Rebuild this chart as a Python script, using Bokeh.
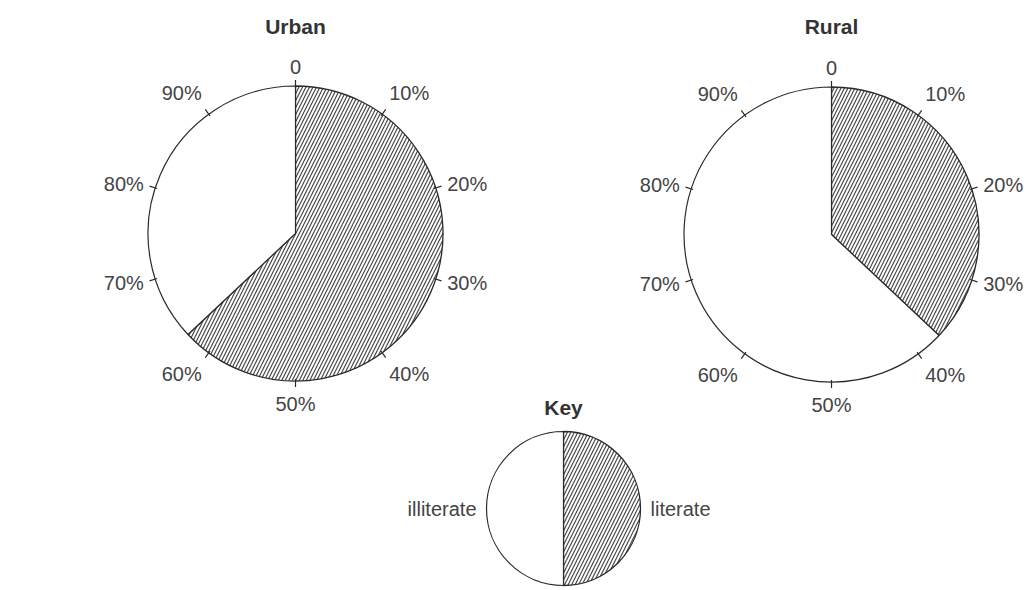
import math
from bokeh.plotting import figure
from bokeh.models import Range1d
from bokeh.core.properties import value
from bokeh.embed import file_html
from bokeh.resources import INLINE

# ---- data ----
regions = ["Urban", "Rural"]
literate_pct = [63, 37]
tick_pcts = [0, 10, 20, 30, 40, 50, 60, 70, 80, 90]
tick_labels = ["0", "10%", "20%", "30%", "40%", "50%", "60%", "70%", "80%", "90%"]
key_title = "Key"
key_pct = [50, 50]
key_labels = ["literate", "illiterate"]

# ---- layout (pixels) ----
W, H = 1033, 590
def dx(px):
    return px
def dy(py):
    return H - py

centers = [(dx(295), dy(233)), (dx(831), dy(234))]
R = 147.5
key_center = (dx(563), dy(508))
KR = 77

FONT = "Liberation Sans"
TXT = "#444444"
LINE = "#2a2a2a"
HATCH = "#4a4a4a"

p = figure(width=W, height=H, x_range=Range1d(0, W), y_range=Range1d(0, H),
           output_backend="svg", toolbar_location=None, min_border=0)
p.axis.visible = False
p.grid.visible = False
p.outline_line_color = None
p.background_fill_color = "white"
p.border_fill_color = "white"

def ang(pct):
    return math.pi / 2 - 2 * math.pi * pct / 100.0

def pie(cx, cy, r, lit):
    p.wedge(x=[cx], y=[cy], radius=r, start_angle=ang(0), end_angle=ang(lit),
            direction="clock", fill_color="white", hatch_pattern="/",
            hatch_color=HATCH, hatch_weight=1.2, hatch_scale=7,
            line_color=LINE, line_width=1.3)
    p.wedge(x=[cx], y=[cy], radius=r, start_angle=ang(lit), end_angle=ang(100),
            direction="clock", fill_color="white",
            line_color=LINE, line_width=1.2)

for name, lit, (cx, cy) in zip(regions, literate_pct, centers):
    pie(cx, cy, R, lit)
    x0, y0, x1, y1 = [], [], [], []
    for t in tick_pcts:
        a = ang(t)
        x0.append(cx + (R - 2) * math.cos(a)); y0.append(cy + (R - 2) * math.sin(a))
        x1.append(cx + (R + 6) * math.cos(a)); y1.append(cy + (R + 6) * math.sin(a))
    p.segment(x0=x0, y0=y0, x1=x1, y1=y1, line_color=LINE, line_width=1.2)
    for t, lab in zip(tick_pcts, tick_labels):
        a = ang(t)
        s, c = math.cos(a), math.sin(a)
        rl = R + 12
        lx, ly = cx + rl * s, cy + rl * c
        align = "left" if s > 0.3 else ("right" if s < -0.3 else "center")
        base = "bottom" if c > 0.5 else ("top" if c < -0.5 else "middle")
        p.text(x=[lx], y=[ly], text=[lab], text_font=value(FONT),
               text_font_size="20px", text_color=TXT,
               text_align=align, text_baseline=base)
    p.text(x=[cx], y=[dy(26)], text=[name], text_font=value(FONT),
           text_font_size="21px", text_font_style="bold", text_color="#333333",
           text_align="center", text_baseline="middle")

kx, ky = key_center
p.wedge(x=[kx], y=[ky], radius=KR, start_angle=ang(0), end_angle=ang(key_pct[0]),
        direction="clock", fill_color="white", hatch_pattern="/",
        hatch_color=HATCH, hatch_weight=1.2, hatch_scale=7,
        line_color=LINE, line_width=1.3)
p.wedge(x=[kx], y=[ky], radius=KR, start_angle=ang(key_pct[0]), end_angle=ang(100),
        direction="clock", fill_color="white", line_color=LINE, line_width=1.2)
p.text(x=[kx], y=[dy(407)], text=[key_title], text_font=value(FONT),
       text_font_size="21px", text_font_style="bold", text_color="#333333",
       text_align="center", text_baseline="middle")
p.text(x=[kx + KR + 10], y=[ky], text=[key_labels[0]], text_font=value(FONT),
       text_font_size="20px", text_color=TXT, text_align="left", text_baseline="middle")
p.text(x=[kx - KR - 10], y=[ky], text=[key_labels[1]], text_font=value(FONT),
       text_font_size="20px", text_color=TXT, text_align="right", text_baseline="middle")

open("out.html", "w").write(file_html(p, INLINE))
